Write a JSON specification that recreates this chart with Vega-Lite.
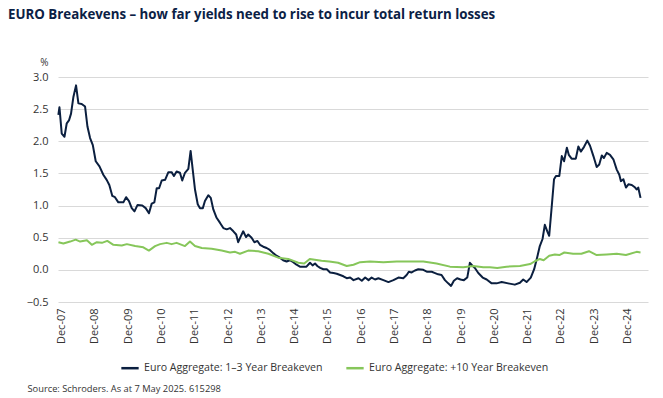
{
  "$schema": "https://vega.github.io/schema/vega-lite/v6.json",
  "width": 590,
  "height": 225,
  "autosize": {"type": "none"},
  "padding": {"left": 58, "top": 77, "right": 15, "bottom": 96},
  "background": "white",
  "title": {
    "text": "EURO Breakevens – how far yields need to rise to incur total return losses",
    "anchor": "start",
    "frame": "group",
    "dx": -50,
    "offset": 36,
    "font": "Open Sans",
    "fontSize": 13.3,
    "fontWeight": "bold",
    "color": "#0b2145"
  },
  "config": {
    "view": {"stroke": null},
    "font": "Open Sans"
  },
  "data": {
    "values": [
      {"series": "Euro Aggregate: 1–3 Year Breakeven", "date": "2007-10-27", "value": 2.41},
      {"series": "Euro Aggregate: 1–3 Year Breakeven", "date": "2007-11-08", "value": 2.53},
      {"series": "Euro Aggregate: 1–3 Year Breakeven", "date": "2007-12-03", "value": 2.12},
      {"series": "Euro Aggregate: 1–3 Year Breakeven", "date": "2008-01-02", "value": 2.07},
      {"series": "Euro Aggregate: 1–3 Year Breakeven", "date": "2008-01-27", "value": 2.28},
      {"series": "Euro Aggregate: 1–3 Year Breakeven", "date": "2008-02-22", "value": 2.33},
      {"series": "Euro Aggregate: 1–3 Year Breakeven", "date": "2008-03-14", "value": 2.43},
      {"series": "Euro Aggregate: 1–3 Year Breakeven", "date": "2008-04-09", "value": 2.69},
      {"series": "Euro Aggregate: 1–3 Year Breakeven", "date": "2008-05-08", "value": 2.87},
      {"series": "Euro Aggregate: 1–3 Year Breakeven", "date": "2008-06-03", "value": 2.59},
      {"series": "Euro Aggregate: 1–3 Year Breakeven", "date": "2008-07-09", "value": 2.58},
      {"series": "Euro Aggregate: 1–3 Year Breakeven", "date": "2008-08-15", "value": 2.54},
      {"series": "Euro Aggregate: 1–3 Year Breakeven", "date": "2008-09-10", "value": 2.23},
      {"series": "Euro Aggregate: 1–3 Year Breakeven", "date": "2008-10-09", "value": 2.05},
      {"series": "Euro Aggregate: 1–3 Year Breakeven", "date": "2008-11-08", "value": 1.94},
      {"series": "Euro Aggregate: 1–3 Year Breakeven", "date": "2008-12-10", "value": 1.69},
      {"series": "Euro Aggregate: 1–3 Year Breakeven", "date": "2009-01-20", "value": 1.61},
      {"series": "Euro Aggregate: 1–3 Year Breakeven", "date": "2009-03-03", "value": 1.48},
      {"series": "Euro Aggregate: 1–3 Year Breakeven", "date": "2009-04-09", "value": 1.40},
      {"series": "Euro Aggregate: 1–3 Year Breakeven", "date": "2009-05-08", "value": 1.32},
      {"series": "Euro Aggregate: 1–3 Year Breakeven", "date": "2009-06-10", "value": 1.15},
      {"series": "Euro Aggregate: 1–3 Year Breakeven", "date": "2009-07-09", "value": 1.13},
      {"series": "Euro Aggregate: 1–3 Year Breakeven", "date": "2009-08-15", "value": 1.05},
      {"series": "Euro Aggregate: 1–3 Year Breakeven", "date": "2009-10-09", "value": 1.05},
      {"series": "Euro Aggregate: 1–3 Year Breakeven", "date": "2009-11-08", "value": 1.13},
      {"series": "Euro Aggregate: 1–3 Year Breakeven", "date": "2009-12-10", "value": 1.07},
      {"series": "Euro Aggregate: 1–3 Year Breakeven", "date": "2010-01-09", "value": 0.96},
      {"series": "Euro Aggregate: 1–3 Year Breakeven", "date": "2010-02-08", "value": 0.91},
      {"series": "Euro Aggregate: 1–3 Year Breakeven", "date": "2010-03-14", "value": 1.01},
      {"series": "Euro Aggregate: 1–3 Year Breakeven", "date": "2010-05-05", "value": 1.00},
      {"series": "Euro Aggregate: 1–3 Year Breakeven", "date": "2010-06-11", "value": 0.96},
      {"series": "Euro Aggregate: 1–3 Year Breakeven", "date": "2010-07-17", "value": 0.88},
      {"series": "Euro Aggregate: 1–3 Year Breakeven", "date": "2010-08-16", "value": 1.03},
      {"series": "Euro Aggregate: 1–3 Year Breakeven", "date": "2010-09-14", "value": 1.05},
      {"series": "Euro Aggregate: 1–3 Year Breakeven", "date": "2010-10-10", "value": 1.27},
      {"series": "Euro Aggregate: 1–3 Year Breakeven", "date": "2010-11-05", "value": 1.27},
      {"series": "Euro Aggregate: 1–3 Year Breakeven", "date": "2010-12-04", "value": 1.39},
      {"series": "Euro Aggregate: 1–3 Year Breakeven", "date": "2011-01-10", "value": 1.40},
      {"series": "Euro Aggregate: 1–3 Year Breakeven", "date": "2011-02-15", "value": 1.52},
      {"series": "Euro Aggregate: 1–3 Year Breakeven", "date": "2011-03-22", "value": 1.52},
      {"series": "Euro Aggregate: 1–3 Year Breakeven", "date": "2011-04-17", "value": 1.46},
      {"series": "Euro Aggregate: 1–3 Year Breakeven", "date": "2011-05-16", "value": 1.53},
      {"series": "Euro Aggregate: 1–3 Year Breakeven", "date": "2011-06-22", "value": 1.51},
      {"series": "Euro Aggregate: 1–3 Year Breakeven", "date": "2011-07-17", "value": 1.39},
      {"series": "Euro Aggregate: 1–3 Year Breakeven", "date": "2011-08-16", "value": 1.51},
      {"series": "Euro Aggregate: 1–3 Year Breakeven", "date": "2011-09-22", "value": 1.57},
      {"series": "Euro Aggregate: 1–3 Year Breakeven", "date": "2011-10-17", "value": 1.85},
      {"series": "Euro Aggregate: 1–3 Year Breakeven", "date": "2011-11-09", "value": 1.56},
      {"series": "Euro Aggregate: 1–3 Year Breakeven", "date": "2011-12-04", "value": 1.25},
      {"series": "Euro Aggregate: 1–3 Year Breakeven", "date": "2012-01-03", "value": 1.02},
      {"series": "Euro Aggregate: 1–3 Year Breakeven", "date": "2012-01-28", "value": 0.96},
      {"series": "Euro Aggregate: 1–3 Year Breakeven", "date": "2012-02-28", "value": 0.96},
      {"series": "Euro Aggregate: 1–3 Year Breakeven", "date": "2012-03-22", "value": 1.07},
      {"series": "Euro Aggregate: 1–3 Year Breakeven", "date": "2012-04-28", "value": 1.16},
      {"series": "Euro Aggregate: 1–3 Year Breakeven", "date": "2012-05-25", "value": 1.12},
      {"series": "Euro Aggregate: 1–3 Year Breakeven", "date": "2012-06-22", "value": 0.94},
      {"series": "Euro Aggregate: 1–3 Year Breakeven", "date": "2012-07-28", "value": 0.81},
      {"series": "Euro Aggregate: 1–3 Year Breakeven", "date": "2012-09-04", "value": 0.73},
      {"series": "Euro Aggregate: 1–3 Year Breakeven", "date": "2012-10-10", "value": 0.65},
      {"series": "Euro Aggregate: 1–3 Year Breakeven", "date": "2012-11-16", "value": 0.63},
      {"series": "Euro Aggregate: 1–3 Year Breakeven", "date": "2012-12-22", "value": 0.65},
      {"series": "Euro Aggregate: 1–3 Year Breakeven", "date": "2013-01-28", "value": 0.60},
      {"series": "Euro Aggregate: 1–3 Year Breakeven", "date": "2013-02-28", "value": 0.55},
      {"series": "Euro Aggregate: 1–3 Year Breakeven", "date": "2013-03-22", "value": 0.43},
      {"series": "Euro Aggregate: 1–3 Year Breakeven", "date": "2013-04-19", "value": 0.52},
      {"series": "Euro Aggregate: 1–3 Year Breakeven", "date": "2013-05-16", "value": 0.60},
      {"series": "Euro Aggregate: 1–3 Year Breakeven", "date": "2013-06-16", "value": 0.51},
      {"series": "Euro Aggregate: 1–3 Year Breakeven", "date": "2013-07-10", "value": 0.55},
      {"series": "Euro Aggregate: 1–3 Year Breakeven", "date": "2013-08-16", "value": 0.50},
      {"series": "Euro Aggregate: 1–3 Year Breakeven", "date": "2013-09-16", "value": 0.43},
      {"series": "Euro Aggregate: 1–3 Year Breakeven", "date": "2013-10-19", "value": 0.45},
      {"series": "Euro Aggregate: 1–3 Year Breakeven", "date": "2013-11-16", "value": 0.39},
      {"series": "Euro Aggregate: 1–3 Year Breakeven", "date": "2013-12-22", "value": 0.36},
      {"series": "Euro Aggregate: 1–3 Year Breakeven", "date": "2014-01-28", "value": 0.34},
      {"series": "Euro Aggregate: 1–3 Year Breakeven", "date": "2014-03-04", "value": 0.31},
      {"series": "Euro Aggregate: 1–3 Year Breakeven", "date": "2014-04-10", "value": 0.26},
      {"series": "Euro Aggregate: 1–3 Year Breakeven", "date": "2014-05-16", "value": 0.22},
      {"series": "Euro Aggregate: 1–3 Year Breakeven", "date": "2014-06-22", "value": 0.19},
      {"series": "Euro Aggregate: 1–3 Year Breakeven", "date": "2014-07-28", "value": 0.15},
      {"series": "Euro Aggregate: 1–3 Year Breakeven", "date": "2014-09-04", "value": 0.13},
      {"series": "Euro Aggregate: 1–3 Year Breakeven", "date": "2014-10-10", "value": 0.15},
      {"series": "Euro Aggregate: 1–3 Year Breakeven", "date": "2014-11-16", "value": 0.12},
      {"series": "Euro Aggregate: 1–3 Year Breakeven", "date": "2014-12-22", "value": 0.08},
      {"series": "Euro Aggregate: 1–3 Year Breakeven", "date": "2015-01-28", "value": 0.05},
      {"series": "Euro Aggregate: 1–3 Year Breakeven", "date": "2015-03-04", "value": 0.05},
      {"series": "Euro Aggregate: 1–3 Year Breakeven", "date": "2015-04-10", "value": 0.05},
      {"series": "Euro Aggregate: 1–3 Year Breakeven", "date": "2015-05-19", "value": 0.11},
      {"series": "Euro Aggregate: 1–3 Year Breakeven", "date": "2015-06-16", "value": 0.07},
      {"series": "Euro Aggregate: 1–3 Year Breakeven", "date": "2015-07-13", "value": 0.10},
      {"series": "Euro Aggregate: 1–3 Year Breakeven", "date": "2015-08-07", "value": 0.06},
      {"series": "Euro Aggregate: 1–3 Year Breakeven", "date": "2015-09-07", "value": 0.03},
      {"series": "Euro Aggregate: 1–3 Year Breakeven", "date": "2015-10-13", "value": 0.01},
      {"series": "Euro Aggregate: 1–3 Year Breakeven", "date": "2015-11-19", "value": 0.01},
      {"series": "Euro Aggregate: 1–3 Year Breakeven", "date": "2015-12-25", "value": -0.04},
      {"series": "Euro Aggregate: 1–3 Year Breakeven", "date": "2016-02-01", "value": -0.05},
      {"series": "Euro Aggregate: 1–3 Year Breakeven", "date": "2016-03-07", "value": -0.06},
      {"series": "Euro Aggregate: 1–3 Year Breakeven", "date": "2016-04-13", "value": -0.08},
      {"series": "Euro Aggregate: 1–3 Year Breakeven", "date": "2016-05-19", "value": -0.10},
      {"series": "Euro Aggregate: 1–3 Year Breakeven", "date": "2016-06-25", "value": -0.13},
      {"series": "Euro Aggregate: 1–3 Year Breakeven", "date": "2016-08-01", "value": -0.12},
      {"series": "Euro Aggregate: 1–3 Year Breakeven", "date": "2016-09-07", "value": -0.16},
      {"series": "Euro Aggregate: 1–3 Year Breakeven", "date": "2016-11-01", "value": -0.13},
      {"series": "Euro Aggregate: 1–3 Year Breakeven", "date": "2016-12-07", "value": -0.17},
      {"series": "Euro Aggregate: 1–3 Year Breakeven", "date": "2017-01-13", "value": -0.12},
      {"series": "Euro Aggregate: 1–3 Year Breakeven", "date": "2017-02-19", "value": -0.16},
      {"series": "Euro Aggregate: 1–3 Year Breakeven", "date": "2017-03-25", "value": -0.12},
      {"series": "Euro Aggregate: 1–3 Year Breakeven", "date": "2017-05-01", "value": -0.15},
      {"series": "Euro Aggregate: 1–3 Year Breakeven", "date": "2017-06-07", "value": -0.13},
      {"series": "Euro Aggregate: 1–3 Year Breakeven", "date": "2017-08-01", "value": -0.16},
      {"series": "Euro Aggregate: 1–3 Year Breakeven", "date": "2017-09-25", "value": -0.19},
      {"series": "Euro Aggregate: 1–3 Year Breakeven", "date": "2017-11-19", "value": -0.16},
      {"series": "Euro Aggregate: 1–3 Year Breakeven", "date": "2018-01-13", "value": -0.12},
      {"series": "Euro Aggregate: 1–3 Year Breakeven", "date": "2018-03-07", "value": -0.13},
      {"series": "Euro Aggregate: 1–3 Year Breakeven", "date": "2018-04-13", "value": -0.08},
      {"series": "Euro Aggregate: 1–3 Year Breakeven", "date": "2018-05-07", "value": -0.03},
      {"series": "Euro Aggregate: 1–3 Year Breakeven", "date": "2018-06-07", "value": -0.04},
      {"series": "Euro Aggregate: 1–3 Year Breakeven", "date": "2018-07-13", "value": -0.01},
      {"series": "Euro Aggregate: 1–3 Year Breakeven", "date": "2018-08-19", "value": 0.01},
      {"series": "Euro Aggregate: 1–3 Year Breakeven", "date": "2018-10-13", "value": 0.00},
      {"series": "Euro Aggregate: 1–3 Year Breakeven", "date": "2018-11-25", "value": -0.03},
      {"series": "Euro Aggregate: 1–3 Year Breakeven", "date": "2019-01-13", "value": -0.03},
      {"series": "Euro Aggregate: 1–3 Year Breakeven", "date": "2019-02-19", "value": -0.05},
      {"series": "Euro Aggregate: 1–3 Year Breakeven", "date": "2019-03-25", "value": -0.07},
      {"series": "Euro Aggregate: 1–3 Year Breakeven", "date": "2019-05-01", "value": -0.08},
      {"series": "Euro Aggregate: 1–3 Year Breakeven", "date": "2019-06-07", "value": -0.16},
      {"series": "Euro Aggregate: 1–3 Year Breakeven", "date": "2019-07-13", "value": -0.21},
      {"series": "Euro Aggregate: 1–3 Year Breakeven", "date": "2019-08-13", "value": -0.25},
      {"series": "Euro Aggregate: 1–3 Year Breakeven", "date": "2019-09-13", "value": -0.17},
      {"series": "Euro Aggregate: 1–3 Year Breakeven", "date": "2019-10-19", "value": -0.13},
      {"series": "Euro Aggregate: 1–3 Year Breakeven", "date": "2019-11-25", "value": -0.15},
      {"series": "Euro Aggregate: 1–3 Year Breakeven", "date": "2020-01-01", "value": -0.16},
      {"series": "Euro Aggregate: 1–3 Year Breakeven", "date": "2020-02-07", "value": -0.12},
      {"series": "Euro Aggregate: 1–3 Year Breakeven", "date": "2020-03-07", "value": 0.11},
      {"series": "Euro Aggregate: 1–3 Year Breakeven", "date": "2020-03-25", "value": 0.08},
      {"series": "Euro Aggregate: 1–3 Year Breakeven", "date": "2020-05-01", "value": 0.03},
      {"series": "Euro Aggregate: 1–3 Year Breakeven", "date": "2020-06-07", "value": -0.05},
      {"series": "Euro Aggregate: 1–3 Year Breakeven", "date": "2020-07-25", "value": -0.12},
      {"series": "Euro Aggregate: 1–3 Year Breakeven", "date": "2020-09-07", "value": -0.15},
      {"series": "Euro Aggregate: 1–3 Year Breakeven", "date": "2020-11-01", "value": -0.21},
      {"series": "Euro Aggregate: 1–3 Year Breakeven", "date": "2020-12-25", "value": -0.21},
      {"series": "Euro Aggregate: 1–3 Year Breakeven", "date": "2021-02-19", "value": -0.19},
      {"series": "Euro Aggregate: 1–3 Year Breakeven", "date": "2021-05-01", "value": -0.21},
      {"series": "Euro Aggregate: 1–3 Year Breakeven", "date": "2021-07-13", "value": -0.23},
      {"series": "Euro Aggregate: 1–3 Year Breakeven", "date": "2021-09-07", "value": -0.20},
      {"series": "Euro Aggregate: 1–3 Year Breakeven", "date": "2021-10-13", "value": -0.15},
      {"series": "Euro Aggregate: 1–3 Year Breakeven", "date": "2021-11-19", "value": -0.19},
      {"series": "Euro Aggregate: 1–3 Year Breakeven", "date": "2022-01-04", "value": -0.12},
      {"series": "Euro Aggregate: 1–3 Year Breakeven", "date": "2022-02-10", "value": 0.01},
      {"series": "Euro Aggregate: 1–3 Year Breakeven", "date": "2022-03-16", "value": 0.20},
      {"series": "Euro Aggregate: 1–3 Year Breakeven", "date": "2022-04-13", "value": 0.37},
      {"series": "Euro Aggregate: 1–3 Year Breakeven", "date": "2022-05-13", "value": 0.48},
      {"series": "Euro Aggregate: 1–3 Year Breakeven", "date": "2022-06-07", "value": 0.70},
      {"series": "Euro Aggregate: 1–3 Year Breakeven", "date": "2022-07-04", "value": 0.60},
      {"series": "Euro Aggregate: 1–3 Year Breakeven", "date": "2022-07-25", "value": 0.53},
      {"series": "Euro Aggregate: 1–3 Year Breakeven", "date": "2022-08-22", "value": 0.99},
      {"series": "Euro Aggregate: 1–3 Year Breakeven", "date": "2022-09-16", "value": 1.41},
      {"series": "Euro Aggregate: 1–3 Year Breakeven", "date": "2022-10-07", "value": 1.46},
      {"series": "Euro Aggregate: 1–3 Year Breakeven", "date": "2022-11-13", "value": 1.46},
      {"series": "Euro Aggregate: 1–3 Year Breakeven", "date": "2022-12-10", "value": 1.77},
      {"series": "Euro Aggregate: 1–3 Year Breakeven", "date": "2023-01-04", "value": 1.69},
      {"series": "Euro Aggregate: 1–3 Year Breakeven", "date": "2023-02-04", "value": 1.90},
      {"series": "Euro Aggregate: 1–3 Year Breakeven", "date": "2023-02-25", "value": 1.79},
      {"series": "Euro Aggregate: 1–3 Year Breakeven", "date": "2023-03-28", "value": 1.73},
      {"series": "Euro Aggregate: 1–3 Year Breakeven", "date": "2023-05-13", "value": 1.73},
      {"series": "Euro Aggregate: 1–3 Year Breakeven", "date": "2023-06-10", "value": 1.92},
      {"series": "Euro Aggregate: 1–3 Year Breakeven", "date": "2023-07-07", "value": 1.84},
      {"series": "Euro Aggregate: 1–3 Year Breakeven", "date": "2023-08-10", "value": 1.91},
      {"series": "Euro Aggregate: 1–3 Year Breakeven", "date": "2023-09-16", "value": 2.01},
      {"series": "Euro Aggregate: 1–3 Year Breakeven", "date": "2023-10-16", "value": 1.93},
      {"series": "Euro Aggregate: 1–3 Year Breakeven", "date": "2023-11-22", "value": 1.77},
      {"series": "Euro Aggregate: 1–3 Year Breakeven", "date": "2023-12-28", "value": 1.60},
      {"series": "Euro Aggregate: 1–3 Year Breakeven", "date": "2024-01-25", "value": 1.64},
      {"series": "Euro Aggregate: 1–3 Year Breakeven", "date": "2024-02-22", "value": 1.78},
      {"series": "Euro Aggregate: 1–3 Year Breakeven", "date": "2024-03-16", "value": 1.74},
      {"series": "Euro Aggregate: 1–3 Year Breakeven", "date": "2024-04-16", "value": 1.82},
      {"series": "Euro Aggregate: 1–3 Year Breakeven", "date": "2024-05-22", "value": 1.79},
      {"series": "Euro Aggregate: 1–3 Year Breakeven", "date": "2024-06-28", "value": 1.72},
      {"series": "Euro Aggregate: 1–3 Year Breakeven", "date": "2024-08-04", "value": 1.56},
      {"series": "Euro Aggregate: 1–3 Year Breakeven", "date": "2024-09-01", "value": 1.48},
      {"series": "Euro Aggregate: 1–3 Year Breakeven", "date": "2024-09-19", "value": 1.38},
      {"series": "Euro Aggregate: 1–3 Year Breakeven", "date": "2024-10-16", "value": 1.41},
      {"series": "Euro Aggregate: 1–3 Year Breakeven", "date": "2024-11-13", "value": 1.28},
      {"series": "Euro Aggregate: 1–3 Year Breakeven", "date": "2024-12-10", "value": 1.33},
      {"series": "Euro Aggregate: 1–3 Year Breakeven", "date": "2025-01-16", "value": 1.32},
      {"series": "Euro Aggregate: 1–3 Year Breakeven", "date": "2025-02-22", "value": 1.28},
      {"series": "Euro Aggregate: 1–3 Year Breakeven", "date": "2025-03-10", "value": 1.25},
      {"series": "Euro Aggregate: 1–3 Year Breakeven", "date": "2025-03-28", "value": 1.28},
      {"series": "Euro Aggregate: 1–3 Year Breakeven", "date": "2025-04-22", "value": 1.12},
      {"series": "Euro Aggregate: +10 Year Breakeven", "date": "2007-10-28", "value": 0.43},
      {"series": "Euro Aggregate: +10 Year Breakeven", "date": "2007-12-21", "value": 0.41},
      {"series": "Euro Aggregate: +10 Year Breakeven", "date": "2008-03-04", "value": 0.44},
      {"series": "Euro Aggregate: +10 Year Breakeven", "date": "2008-05-04", "value": 0.47},
      {"series": "Euro Aggregate: +10 Year Breakeven", "date": "2008-06-22", "value": 0.44},
      {"series": "Euro Aggregate: +10 Year Breakeven", "date": "2008-09-04", "value": 0.46},
      {"series": "Euro Aggregate: +10 Year Breakeven", "date": "2008-10-28", "value": 0.39},
      {"series": "Euro Aggregate: +10 Year Breakeven", "date": "2008-12-22", "value": 0.43},
      {"series": "Euro Aggregate: +10 Year Breakeven", "date": "2009-02-16", "value": 0.42},
      {"series": "Euro Aggregate: +10 Year Breakeven", "date": "2009-04-16", "value": 0.45},
      {"series": "Euro Aggregate: +10 Year Breakeven", "date": "2009-06-22", "value": 0.39},
      {"series": "Euro Aggregate: +10 Year Breakeven", "date": "2009-09-22", "value": 0.38},
      {"series": "Euro Aggregate: +10 Year Breakeven", "date": "2009-11-16", "value": 0.40},
      {"series": "Euro Aggregate: +10 Year Breakeven", "date": "2010-02-16", "value": 0.37},
      {"series": "Euro Aggregate: +10 Year Breakeven", "date": "2010-05-16", "value": 0.35},
      {"series": "Euro Aggregate: +10 Year Breakeven", "date": "2010-07-16", "value": 0.30},
      {"series": "Euro Aggregate: +10 Year Breakeven", "date": "2010-09-22", "value": 0.37},
      {"series": "Euro Aggregate: +10 Year Breakeven", "date": "2010-11-16", "value": 0.40},
      {"series": "Euro Aggregate: +10 Year Breakeven", "date": "2011-01-28", "value": 0.42},
      {"series": "Euro Aggregate: +10 Year Breakeven", "date": "2011-03-22", "value": 0.40},
      {"series": "Euro Aggregate: +10 Year Breakeven", "date": "2011-05-16", "value": 0.42},
      {"series": "Euro Aggregate: +10 Year Breakeven", "date": "2011-08-16", "value": 0.37},
      {"series": "Euro Aggregate: +10 Year Breakeven", "date": "2011-10-10", "value": 0.44},
      {"series": "Euro Aggregate: +10 Year Breakeven", "date": "2011-12-04", "value": 0.37},
      {"series": "Euro Aggregate: +10 Year Breakeven", "date": "2012-02-16", "value": 0.34},
      {"series": "Euro Aggregate: +10 Year Breakeven", "date": "2012-06-04", "value": 0.33},
      {"series": "Euro Aggregate: +10 Year Breakeven", "date": "2012-09-22", "value": 0.30},
      {"series": "Euro Aggregate: +10 Year Breakeven", "date": "2012-12-22", "value": 0.27},
      {"series": "Euro Aggregate: +10 Year Breakeven", "date": "2013-02-16", "value": 0.28},
      {"series": "Euro Aggregate: +10 Year Breakeven", "date": "2013-04-10", "value": 0.25},
      {"series": "Euro Aggregate: +10 Year Breakeven", "date": "2013-07-10", "value": 0.30},
      {"series": "Euro Aggregate: +10 Year Breakeven", "date": "2013-10-28", "value": 0.29},
      {"series": "Euro Aggregate: +10 Year Breakeven", "date": "2014-02-16", "value": 0.25},
      {"series": "Euro Aggregate: +10 Year Breakeven", "date": "2014-06-04", "value": 0.19},
      {"series": "Euro Aggregate: +10 Year Breakeven", "date": "2014-09-22", "value": 0.17},
      {"series": "Euro Aggregate: +10 Year Breakeven", "date": "2015-01-10", "value": 0.11},
      {"series": "Euro Aggregate: +10 Year Breakeven", "date": "2015-03-16", "value": 0.10},
      {"series": "Euro Aggregate: +10 Year Breakeven", "date": "2015-05-16", "value": 0.17},
      {"series": "Euro Aggregate: +10 Year Breakeven", "date": "2015-09-22", "value": 0.14},
      {"series": "Euro Aggregate: +10 Year Breakeven", "date": "2015-12-16", "value": 0.13},
      {"series": "Euro Aggregate: +10 Year Breakeven", "date": "2016-03-22", "value": 0.11},
      {"series": "Euro Aggregate: +10 Year Breakeven", "date": "2016-06-25", "value": 0.06},
      {"series": "Euro Aggregate: +10 Year Breakeven", "date": "2016-09-07", "value": 0.08},
      {"series": "Euro Aggregate: +10 Year Breakeven", "date": "2016-11-19", "value": 0.12},
      {"series": "Euro Aggregate: +10 Year Breakeven", "date": "2017-03-07", "value": 0.13},
      {"series": "Euro Aggregate: +10 Year Breakeven", "date": "2017-08-01", "value": 0.12},
      {"series": "Euro Aggregate: +10 Year Breakeven", "date": "2017-12-25", "value": 0.13},
      {"series": "Euro Aggregate: +10 Year Breakeven", "date": "2018-05-19", "value": 0.13},
      {"series": "Euro Aggregate: +10 Year Breakeven", "date": "2018-10-13", "value": 0.13},
      {"series": "Euro Aggregate: +10 Year Breakeven", "date": "2019-03-07", "value": 0.10},
      {"series": "Euro Aggregate: +10 Year Breakeven", "date": "2019-08-01", "value": 0.05},
      {"series": "Euro Aggregate: +10 Year Breakeven", "date": "2019-12-25", "value": 0.04},
      {"series": "Euro Aggregate: +10 Year Breakeven", "date": "2020-04-13", "value": 0.06},
      {"series": "Euro Aggregate: +10 Year Breakeven", "date": "2020-08-01", "value": 0.04},
      {"series": "Euro Aggregate: +10 Year Breakeven", "date": "2020-10-13", "value": 0.04},
      {"series": "Euro Aggregate: +10 Year Breakeven", "date": "2021-01-01", "value": 0.03},
      {"series": "Euro Aggregate: +10 Year Breakeven", "date": "2021-04-13", "value": 0.05},
      {"series": "Euro Aggregate: +10 Year Breakeven", "date": "2021-09-07", "value": 0.06},
      {"series": "Euro Aggregate: +10 Year Breakeven", "date": "2021-12-28", "value": 0.09},
      {"series": "Euro Aggregate: +10 Year Breakeven", "date": "2022-02-13", "value": 0.13},
      {"series": "Euro Aggregate: +10 Year Breakeven", "date": "2022-04-13", "value": 0.17},
      {"series": "Euro Aggregate: +10 Year Breakeven", "date": "2022-05-25", "value": 0.15},
      {"series": "Euro Aggregate: +10 Year Breakeven", "date": "2022-07-25", "value": 0.22},
      {"series": "Euro Aggregate: +10 Year Breakeven", "date": "2022-09-25", "value": 0.24},
      {"series": "Euro Aggregate: +10 Year Breakeven", "date": "2022-11-13", "value": 0.23},
      {"series": "Euro Aggregate: +10 Year Breakeven", "date": "2023-01-07", "value": 0.27},
      {"series": "Euro Aggregate: +10 Year Breakeven", "date": "2023-04-13", "value": 0.25},
      {"series": "Euro Aggregate: +10 Year Breakeven", "date": "2023-07-13", "value": 0.25},
      {"series": "Euro Aggregate: +10 Year Breakeven", "date": "2023-10-04", "value": 0.29},
      {"series": "Euro Aggregate: +10 Year Breakeven", "date": "2023-12-28", "value": 0.23},
      {"series": "Euro Aggregate: +10 Year Breakeven", "date": "2024-04-16", "value": 0.24},
      {"series": "Euro Aggregate: +10 Year Breakeven", "date": "2024-08-04", "value": 0.25},
      {"series": "Euro Aggregate: +10 Year Breakeven", "date": "2024-11-13", "value": 0.23},
      {"series": "Euro Aggregate: +10 Year Breakeven", "date": "2025-03-10", "value": 0.28},
      {"series": "Euro Aggregate: +10 Year Breakeven", "date": "2025-04-22", "value": 0.27}
    ]
  },
  "mark": {"type": "line", "strokeWidth": 2, "strokeJoin": "round"},
  "encoding": {
    "x": {
      "field": "date",
      "type": "temporal",
      "scale": {"domain": [{"year": 2007, "month": 10, "date": 23}, {"year": 2025, "month": 7, "date": 13}]},
      "axis": {
        "values": [
          {"year": 2007, "month": 12, "date": 1}, {"year": 2008, "month": 12, "date": 1}, {"year": 2009, "month": 12, "date": 1},
          {"year": 2010, "month": 12, "date": 1}, {"year": 2011, "month": 12, "date": 1}, {"year": 2012, "month": 12, "date": 1},
          {"year": 2013, "month": 12, "date": 1}, {"year": 2014, "month": 12, "date": 1}, {"year": 2015, "month": 12, "date": 1},
          {"year": 2016, "month": 12, "date": 1}, {"year": 2017, "month": 12, "date": 1}, {"year": 2018, "month": 12, "date": 1},
          {"year": 2019, "month": 12, "date": 1}, {"year": 2020, "month": 12, "date": 1}, {"year": 2021, "month": 12, "date": 1},
          {"year": 2022, "month": 12, "date": 1}, {"year": 2023, "month": 12, "date": 1}, {"year": 2024, "month": 12, "date": 1}
        ],
        "format": "%b-%y",
        "labelAngle": -90,
        "labelFontSize": 11,
        "labelColor": "#333333",
        "labelPadding": 6,
        "labelFlush": false,
        "labelOverlap": false,
        "ticks": false,
        "domain": false,
        "grid": false,
        "title": "Source: Schroders. As at 7 May 2025. 615298",
        "titleX": -31,
        "titleY": 86,
        "titleAlign": "left",
        "titleAnchor": null,
        "titleBaseline": "middle",
        "titleFontSize": 9.3,
        "titleFontWeight": "normal",
        "titleColor": "#333333"
      }
    },
    "y": {
      "field": "value",
      "type": "quantitative",
      "scale": {"domain": [-0.5, 3.0], "nice": false, "zero": false},
      "axis": {
        "values": [-0.5, 0, 0.5, 1, 1.5, 2, 2.5, 3],
        "format": ".1f",
        "labelFontSize": 11,
        "labelColor": "#333333",
        "labelPadding": 10,
        "ticks": false,
        "domain": false,
        "grid": true,
        "gridColor": "#d9d9d9",
        "gridWidth": 1,
        "title": "%",
        "titleAngle": 0,
        "titleX": -14,
        "titleY": -15,
        "titleAlign": "center",
        "titleBaseline": "middle",
        "titleFontSize": 10,
        "titleFontWeight": "normal",
        "titleColor": "#333333"
      }
    },
    "color": {
      "field": "series",
      "type": "nominal",
      "scale": {
        "domain": ["Euro Aggregate: 1–3 Year Breakeven", "Euro Aggregate: +10 Year Breakeven"],
        "range": ["#0b1f3f", "#86c65a"]
      },
      "legend": {
        "orient": "none",
        "legendX": 62,
        "legendY": 281,
        "direction": "horizontal",
        "title": null,
        "symbolType": "stroke",
        "symbolStrokeWidth": 2.5,
        "symbolSize": 300,
        "labelFontSize": 10.6,
        "labelLimit": 400,
        "labelColor": "#333333",
        "columnPadding": 18,
        "labelOffset": 4
      }
    }
  }
}
